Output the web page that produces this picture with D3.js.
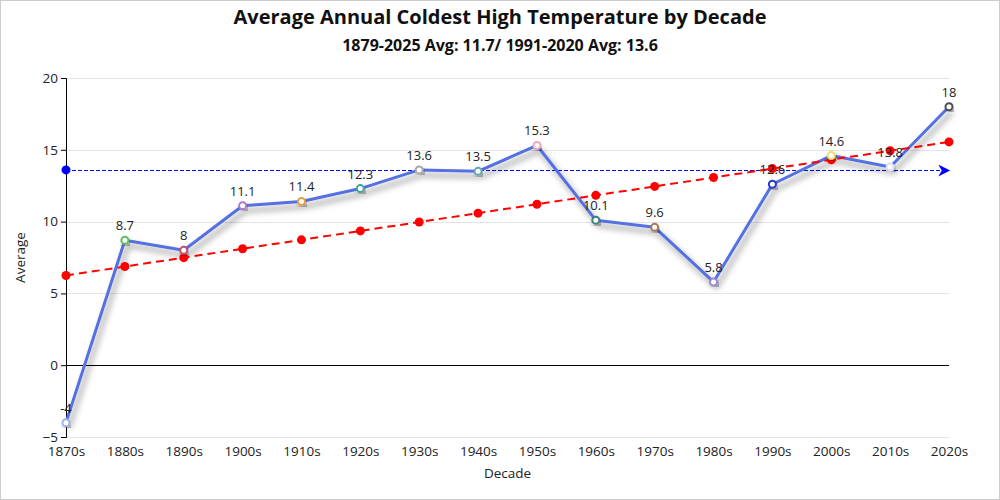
<!DOCTYPE html>
<html><head><meta charset="utf-8">
<script src="https://cdn.jsdelivr.net/npm/d3@7"></script>
<style>
html,body{margin:0;padding:0;background:#fff;}
svg{display:block;font-family:"Segoe UI","Open Sans","Noto Sans",sans-serif;}
</style></head>
<body>
<svg id="c" width="1000" height="500"></svg>
<script>
const decades = ["1870s","1880s","1890s","1900s","1910s","1920s","1930s","1940s","1950s","1960s","1970s","1980s","1990s","2000s","2010s","2020s"];
const avgValues = [-4,8.7,8,11.1,11.4,12.3,13.6,13.5,15.3,10.1,9.6,5.8,12.6,14.6,13.8,18];
const trendValues = [6.25,6.87,7.49,8.11,8.73,9.35,9.97,10.59,11.21,11.83,12.45,13.07,13.69,14.31,14.93,15.55];
const markerColors = ["#9fb4ee","#5cc05c","#c0506e","#b079d0","#e8a040","#3fa6a0","#a8a8a8","#6aa6b0","#e8aab8","#3f8078","#a87858","#9888d8","#2838c8","#e8e070","#d8e0f4","#505050"];
const refAvg = 13.6;
const yTicks = [-5,0,5,10,15,20];

const svg = d3.select("#c");
const W = 1000, H = 500;
const m = {l:66, r:51, t:78, b:63};
const x = d3.scalePoint().domain(decades).range([m.l, W-m.r]);
const y = d3.scaleLinear().domain([-5,20]).range([H-m.b, m.t]);
const FF = "'Segoe UI','Open Sans','Noto Sans',sans-serif";

svg.append("rect").attr("x",0.5).attr("y",0.5).attr("width",W-1).attr("height",H-1).attr("fill","#fff").attr("stroke","#cccccc");

const defs = svg.append("defs");
const f = defs.append("filter").attr("id","sh").attr("x","-20%").attr("y","-20%").attr("width","140%").attr("height","140%");
f.append("feDropShadow").attr("dx",3).attr("dy",5).attr("stdDeviation",3).attr("flood-color","#000").attr("flood-opacity",0.45);
defs.append("marker").attr("id","arr").attr("viewBox","0 0 10 10").attr("refX",9).attr("refY",5)
  .attr("markerWidth",16).attr("markerHeight",12).attr("markerUnits","userSpaceOnUse").attr("orient","auto")
  .append("path").attr("d","M0,0 L10,5 L0,10 L3,5 Z").attr("fill","#0000ff");

// gridlines
svg.append("g").selectAll("line").data(yTicks).join("line")
  .attr("x1",m.l).attr("x2",W-m.r).attr("y1",d=>Math.round(y(d))+0.5).attr("y2",d=>Math.round(y(d))+0.5)
  .attr("stroke",d=>d===0?"#000":"#e4e4e4").attr("stroke-width",1);

// y axis
const ya = svg.append("g").attr("transform",`translate(${m.l},0)`)
  .call(d3.axisLeft(y).tickValues(yTicks).tickSize(5).tickPadding(3));
ya.select(".domain").attr("stroke","#000");
ya.selectAll("text").attr("font-size",13.5).attr("fill","#222").attr("font-family",FF);

// x axis
const xa = svg.append("g").attr("transform",`translate(0,${H-m.b})`)
  .call(d3.axisBottom(x).tickSize(0).tickPadding(9));
xa.select(".domain").remove();
xa.selectAll("text").attr("font-size",13.5).attr("fill","#222").attr("font-family",FF);

// titles
svg.append("text").attr("x",500).attr("y",24).attr("text-anchor","middle").attr("font-size",20).attr("font-weight","bold").attr("fill","#111").text("Average Annual Coldest High Temperature by Decade");
svg.append("text").attr("x",500).attr("y",51).attr("text-anchor","middle").attr("font-size",16).attr("font-weight","bold").attr("fill","#111").text("1879-2025 Avg: 11.7/ 1991-2020 Avg: 13.6");
svg.append("text").attr("transform",`translate(25,${(m.t+H-m.b)/2}) rotate(-90)`).attr("text-anchor","middle").attr("font-size",13.5).attr("fill","#222").text("Average");
svg.append("text").attr("x",(m.l+W-m.r)/2).attr("y",478).attr("text-anchor","middle").attr("font-size",13.5).attr("fill","#222").text("Decade");

// reference average line
svg.append("line").attr("x1",x(decades[0])).attr("x2",x(decades[decades.length-1])).attr("y1",Math.round(y(refAvg))+0.5).attr("y2",Math.round(y(refAvg))+0.5)
  .attr("stroke","#0000ff").attr("stroke-width",1).attr("stroke-dasharray","4,2").attr("marker-end","url(#arr)");
svg.append("circle").attr("cx",x(decades[0])).attr("cy",y(refAvg)).attr("r",4.5).attr("fill","#0000ff");

// main line
const line = d3.line().x((d,i)=>x(decades[i])).y(d=>y(d));
svg.append("path").datum(avgValues).attr("d",line).attr("fill","none").attr("stroke","#5470e0").attr("stroke-width",3).attr("stroke-linejoin","round").attr("filter","url(#sh)");

// trend line
svg.append("path").datum(trendValues).attr("d",line).attr("fill","none").attr("stroke","#ff0000").attr("stroke-width",2).attr("stroke-dasharray","8,5");
svg.append("g").selectAll("circle").data(trendValues).join("circle")
  .attr("cx",(d,i)=>x(decades[i])).attr("cy",d=>y(d)).attr("r",4.5).attr("fill","#ff0000");

// markers
svg.append("g").selectAll("circle").data(avgValues).join("circle")
  .attr("cx",(d,i)=>x(decades[i])).attr("cy",d=>y(d)).attr("r",3.5)
  .attr("fill","#fff").attr("stroke",(d,i)=>markerColors[i]).attr("stroke-width",2).attr("filter","url(#sh)");

// labels
svg.append("g").selectAll("text").data(avgValues).join("text")
  .attr("x",(d,i)=>x(decades[i])).attr("y",d=>y(d)-10).attr("text-anchor","middle")
  .attr("font-size",13).attr("fill","#222").text(d=>d);
</script>
</body></html>
